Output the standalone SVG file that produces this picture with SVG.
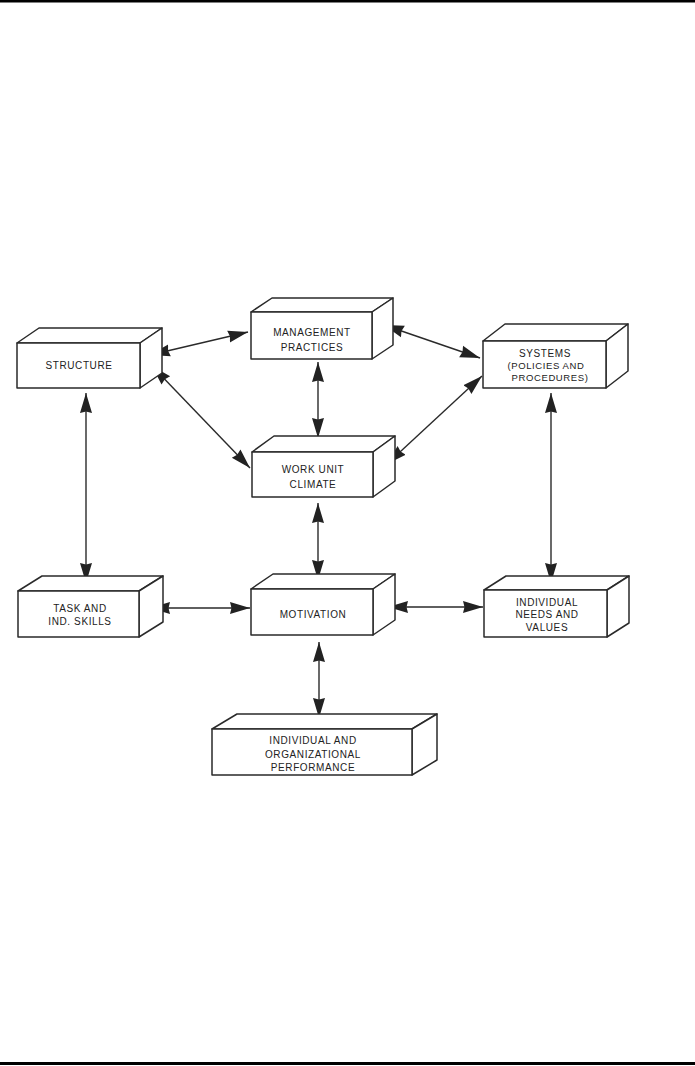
<svg xmlns="http://www.w3.org/2000/svg" width="695" height="1066" viewBox="0 0 695 1066">
<style>
.face{fill:#fff;stroke:#2a2a2a;stroke-width:1.5;stroke-linejoin:round}
.lbl{font-family:"Liberation Sans",Arial,sans-serif;font-size:10px;fill:#222;text-anchor:middle;letter-spacing:0.6px}
.sub{font-size:9.5px}
.conn{stroke:#2a2a2a;stroke-width:1.4;fill:none;marker-start:url(#ah);marker-end:url(#ah)}
</style>
<defs>
<marker id="ah" markerUnits="userSpaceOnUse" markerWidth="22" markerHeight="14" viewBox="0 0 22 14" refX="20" refY="7" orient="auto-start-reverse">
<path d="M0,1 L20,7 L0,13 L1.5,7 Z" fill="#222"/>
</marker>
</defs>
<rect width="695" height="1066" fill="#fff"/>
<rect x="0" y="0" width="695" height="2.5" fill="#000"/>
<rect x="0" y="1062" width="695" height="3" fill="#000"/>

<g id="connectors">
<line class="conn" x1="150" y1="355" x2="248" y2="332"/>
<line class="conn" x1="152" y1="366" x2="250" y2="468"/>
<line class="conn" x1="318" y1="362" x2="318" y2="438"/>
<line class="conn" x1="384" y1="325" x2="480" y2="358"/>
<line class="conn" x1="482" y1="376" x2="387" y2="464"/>
<line class="conn" x1="86" y1="393" x2="86" y2="583"/>
<line class="conn" x1="551" y1="393" x2="551" y2="583"/>
<line class="conn" x1="318" y1="503" x2="318" y2="580"/>
<line class="conn" x1="150" y1="608" x2="250" y2="608"/>
<line class="conn" x1="388" y1="607" x2="483" y2="607"/>
<line class="conn" x1="319" y1="642" x2="319" y2="718"/>
</g>

<g id="structure">
<polygon class="face" points="17,343 39,328 162,328 140,343"/>
<polygon class="face" points="140,343 162,328 162,373 140,388"/>
<rect class="face" x="17" y="343" width="123" height="45"/>
<text class="lbl" x="79" y="369">STRUCTURE</text>
</g>

<g id="management">
<polygon class="face" points="251,312 272,298 393,298 372,312"/>
<polygon class="face" points="372,312 393,298 393,345 372,359"/>
<rect class="face" x="251" y="312" width="121" height="47"/>
<text class="lbl" x="312" y="336">MANAGEMENT</text>
<text class="lbl" x="312" y="351">PRACTICES</text>
</g>

<g id="systems">
<polygon class="face" points="483,341 505,324 628,324 606,341"/>
<polygon class="face" points="606,341 628,324 628,371 606,388"/>
<rect class="face" x="483" y="341" width="123" height="47"/>
<text class="lbl" x="545" y="357">SYSTEMS</text>
<text class="lbl sub" x="546" y="369">(POLICIES AND</text>
<text class="lbl sub" x="550" y="381">PROCEDURES)</text>
</g>

<g id="workunit">
<polygon class="face" points="252,452 274,436 395,436 373,452"/>
<polygon class="face" points="373,452 395,436 395,481 373,497"/>
<rect class="face" x="252" y="452" width="121" height="45"/>
<text class="lbl" x="313" y="473">WORK UNIT</text>
<text class="lbl" x="313" y="488">CLIMATE</text>
</g>

<g id="task">
<polygon class="face" points="18,591 42,576 163,576 139,591"/>
<polygon class="face" points="139,591 163,576 163,622 139,637"/>
<rect class="face" x="18" y="591" width="121" height="46"/>
<text class="lbl" x="80" y="612">TASK AND</text>
<text class="lbl" x="80" y="625">IND. SKILLS</text>
</g>

<g id="motivation">
<polygon class="face" points="251,589 273,574 395,574 373,589"/>
<polygon class="face" points="373,589 395,574 395,620 373,635"/>
<rect class="face" x="251" y="589" width="122" height="46"/>
<text class="lbl" x="313" y="618">MOTIVATION</text>
</g>

<g id="needs">
<polygon class="face" points="484,590 506,576 629,576 607,590"/>
<polygon class="face" points="607,590 629,576 629,623 607,637"/>
<rect class="face" x="484" y="590" width="123" height="47"/>
<text class="lbl" x="547" y="606">INDIVIDUAL</text>
<text class="lbl" x="547" y="618">NEEDS AND</text>
<text class="lbl" x="547" y="631">VALUES</text>
</g>

<g id="performance">
<polygon class="face" points="212,729 237,714 437,714 412,729"/>
<polygon class="face" points="412,729 437,714 437,760 412,775"/>
<rect class="face" x="212" y="729" width="200" height="46"/>
<text class="lbl" x="313" y="744">INDIVIDUAL AND</text>
<text class="lbl" x="313" y="758">ORGANIZATIONAL</text>
<text class="lbl" x="313" y="771">PERFORMANCE</text>
</g>
</svg>
